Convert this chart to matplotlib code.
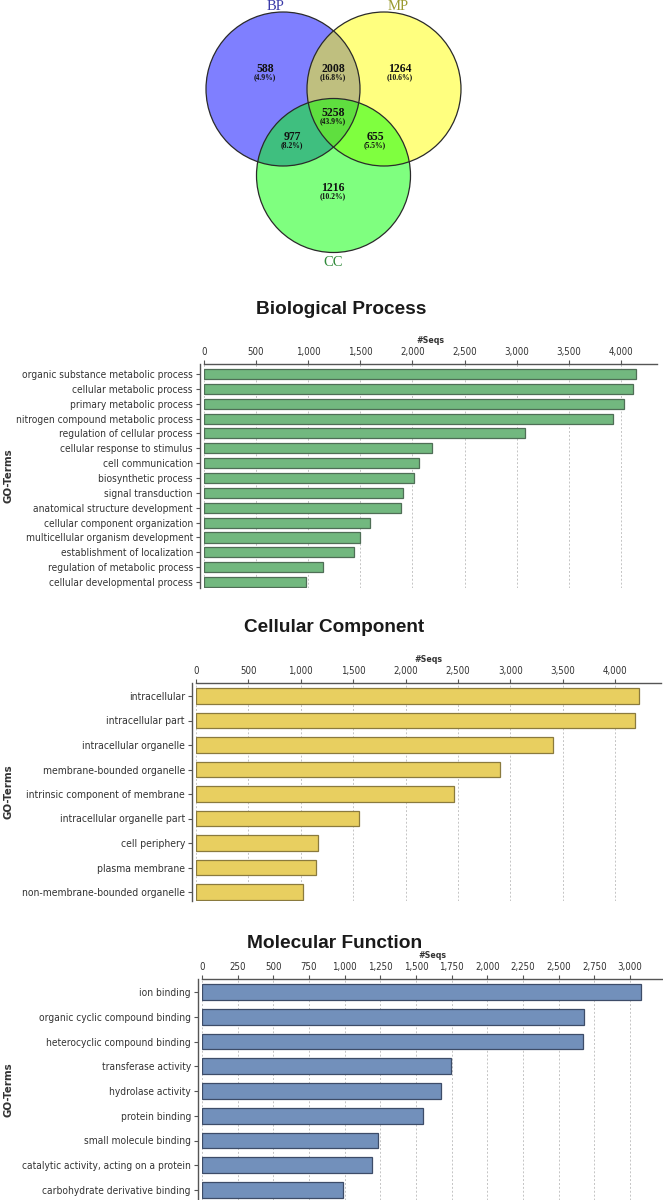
import matplotlib
matplotlib.use('Agg')
import matplotlib.pyplot as plt
from matplotlib.patches import Circle
from matplotlib.ticker import MultipleLocator, FuncFormatter
from matplotlib import font_manager

# ---- data ----
venn_sets = ['BP', 'MP', 'CC']
venn_counts = [588, 2008, 1264, 977, 5258, 655, 1216]
venn_pct = ['(4.9%)', '(16.8%)', '(10.6%)', '(8.2%)', '(43.9%)', '(5.5%)', '(10.2%)']

bp_terms = ['organic substance metabolic process', 'cellular metabolic process',
            'primary metabolic process', 'nitrogen compound metabolic process',
            'regulation of cellular process', 'cellular response to stimulus',
            'cell communication', 'biosynthetic process', 'signal transduction',
            'anatomical structure development', 'cellular component organization',
            'multicellular organism development', 'establishment of localization',
            'regulation of metabolic process', 'cellular developmental process']
bp_seqs = [4146, 4111, 4027, 3921, 3084, 2183, 2066, 2011, 1910, 1892,
           1593, 1500, 1439, 1138, 982]

cc_terms = ['intracellular', 'intracellular part', 'intracellular organelle',
            'membrane-bounded organelle', 'intrinsic component of membrane',
            'intracellular organelle part', 'cell periphery', 'plasma membrane',
            'non-membrane-bounded organelle']
cc_seqs = [4226, 4189, 3402, 2896, 2462, 1557, 1161, 1142, 1025]

mf_terms = ['ion binding', 'organic cyclic compound binding',
            'heterocyclic compound binding', 'transferase activity',
            'hydrolase activity', 'protein binding', 'small molecule binding',
            'catalytic activity, acting on a protein',
            'carbohydrate derivative binding']
mf_seqs = [3077, 2677, 2668, 1747, 1675, 1546, 1234, 1190, 990]

W, H = 663, 1200

# narrow font for the chart labels if one is installed
fonts = font_manager.fontManager.ttflist
names = set(f.name for f in fonts)
if 'Liberation Sans Narrow' in names:
    label_font, stretch = 'Liberation Sans Narrow', 'normal'
elif any(f.name == 'DejaVu Sans' and f.stretch == 'condensed' for f in fonts):
    label_font, stretch = 'DejaVu Sans', 'condensed'
else:
    label_font, stretch = 'DejaVu Sans', 'normal'
plt.rcParams['font.family'] = [label_font, 'DejaVu Sans']
plt.rcParams['font.stretch'] = stretch
text_col = '#333333'

fig = plt.figure(figsize=(W / 100, H / 100), dpi=100)
renderer = fig.canvas.get_renderer()


def fit_size(s, width_px, family=None, weight='normal', fstretch=None):
    # font size that gives the string a given pixel width
    fam = family if family else [label_font, 'DejaVu Sans']
    t = fig.text(0, 0, s, fontsize=10, family=fam, weight=weight,
                 stretch=fstretch if fstretch else stretch)
    w = t.get_window_extent(renderer=renderer).width
    t.remove()
    return 10 * width_px / w


def rect(left, top, right, bottom):
    return [left / W, 1 - bottom / H, (right - left) / W, (bottom - top) / H]


# ---- venn ----
vax = fig.add_axes([0, 1 - 270 / H, 1, 270 / H])
vax.set_xlim(0, W)
vax.set_ylim(270, 0)
vax.axis('off')

centers = [(283, 89), (384, 89), (333.5, 175.5)]
rad = 77
fills = ['#0000ff', '#ffff00', '#00ff00']
for c, col in zip(centers, fills):
    vax.add_patch(Circle(c, rad, fc=col, alpha=0.5, ec='none'))
for c in centers:
    vax.add_patch(Circle(c, rad, fill=False, ec='#2a2a2a', lw=0.9))

set_pos = [(276, 6), (398, 6), (333, 262)]
set_cols = ['#3a3aa8', '#9a9a30', '#2f8a3a']
for name, p, col in zip(venn_sets, set_pos, set_cols):
    vax.text(p[0], p[1], name, color=col, fontsize=10.5, family='Liberation Serif',
             stretch='normal', ha='center', va='center')

region_pos = [(265, 69), (333, 69), (400, 69), (292, 137), (333, 113), (375, 137), (333, 188)]
for n, pct, p in zip(venn_counts, venn_pct, region_pos):
    vax.text(p[0], p[1], str(n), fontsize=8.5, weight='bold', family='Liberation Serif',
             stretch='normal', ha='center', va='center', color='#111111')
    vax.text(p[0], p[1] + 8, pct, fontsize=5.5, weight='bold', family='Liberation Serif',
             stretch='normal', ha='center', va='center', color='#111111')


# ---- bar panels ----
def panel(box, first_c, spacing, terms, seqs, xmax, step, color, edge,
          label_ref, label_w, bar_frac, title, title_xy, title_w):
    left, top, right, bottom = box
    ax = fig.add_axes(rect(left, top, right, bottom))
    n = len(terms)
    y = list(range(n))
    ax.barh(y, seqs, height=bar_frac, color=color, edgecolor=edge, lw=0.9, zorder=3)
    ax.set_ylim((bottom - first_c) / spacing, -(first_c - top) / spacing)
    ax.set_xlim(0, xmax)

    ax.set_yticks(y)
    ax.set_yticklabels(terms)
    ax.xaxis.tick_top()
    ax.xaxis.set_label_position('top')
    ax.xaxis.set_major_locator(MultipleLocator(step))
    ax.xaxis.set_major_formatter(FuncFormatter(lambda v, p: f'{int(v):,}'))
    ax.set_xlabel('#Seqs', weight='bold', fontsize=fit_size('#Seqs', 28, weight='bold'),
                  color=text_col, labelpad=3)

    ax.grid(axis='x', color='#c4c4c4', ls=(0, (2, 2)), lw=0.7, zorder=0)
    ax.set_axisbelow(True)
    for s in ['right', 'bottom']:
        ax.spines[s].set_visible(False)
    ax.spines['left'].set_position(('outward', 3))
    for s in ['left', 'top']:
        ax.spines[s].set_color('#555555')
        ax.spines[s].set_linewidth(1.0)
    ax.tick_params(axis='x', length=3, width=0.8, pad=2, color='#555555',
                   labelcolor=text_col, labelsize=fit_size('1,000', 25))
    ax.tick_params(axis='y', length=3, width=0.8, pad=2, color='#555555',
                   labelcolor=text_col, labelsize=fit_size(label_ref, label_w))

    fig.text(title_xy[0] / W, 1 - title_xy[1] / H, title, ha='center', va='center',
             family='Liberation Sans', weight='bold', color='#1a1a1a', stretch='normal',
             fontsize=fit_size(title, title_w, 'Liberation Sans', 'bold', 'normal'))
    fig.text(9 / W, 1 - (top + bottom) / 2 / H, 'GO-Terms', rotation=90,
             ha='center', va='center', family='DejaVu Sans', weight='bold',
             color=text_col, stretch='normal',
             fontsize=fit_size('GO-Terms', 55, 'DejaVu Sans', 'bold', 'normal'))
    return ax


panel((204, 364, 657, 588), 374, 14.86, bp_terms, bp_seqs, 4346, 500,
      '#72b87f', '#4f6e56', 'nitrogen compound metabolic process', 175, 0.68,
      'Biological Process', (341, 309), 170)
panel((196, 683, 661, 901), 696, 24.5, cc_terms, cc_seqs, 4437, 500,
      '#e8cf60', '#8a7a3e', 'non-membrane-bounded organelle', 163, 0.64,
      'Cellular Component', (334, 628), 180)
panel((202, 979, 663, 1200), 992, 24.75, mf_terms, mf_seqs, 3232, 250,
      '#7290bb', '#3d4c68', 'catalytic activity, acting on a protein', 167, 0.64,
      'Molecular Function', (335, 943), 175)

fig.savefig('out.png', dpi=100)
